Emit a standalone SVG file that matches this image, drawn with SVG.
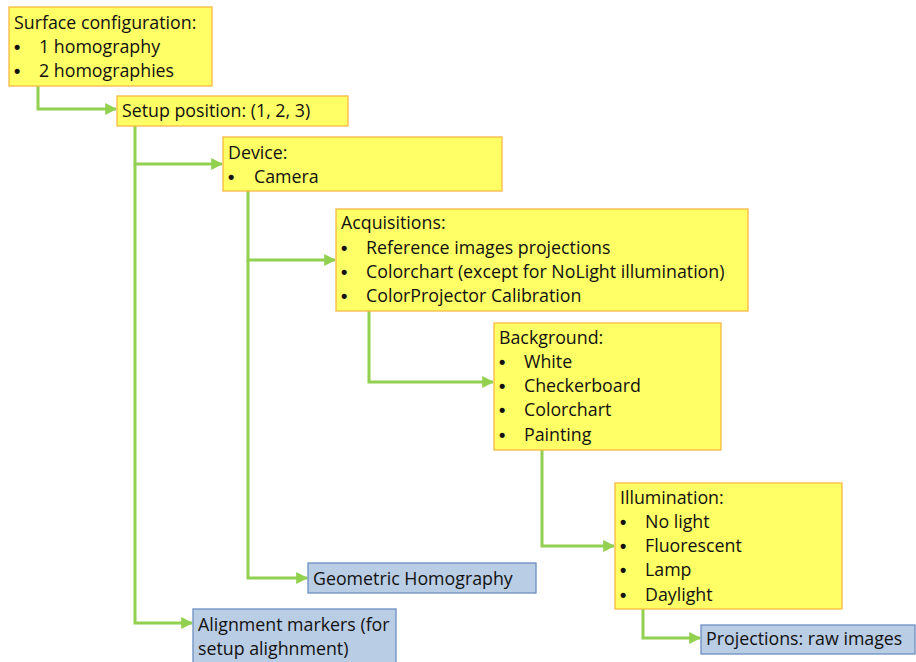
<svg xmlns="http://www.w3.org/2000/svg" width="916" height="662" viewBox="0 0 916 662">
  <style>
    .y { fill: #FFFF66; stroke: #F7B944; stroke-width: 1.3; }
    .b { fill: #B9CDE5; stroke: #6C8EBF; stroke-width: 1.3; }
    text { font-family: "Open Sans", "Liberation Sans", Arial, sans-serif; font-size: 17.8px; fill: #111; }
    .d { font-family: "Liberation Sans", Arial, sans-serif; font-size: 18px; font-weight: bold; }
    .c { fill: none; stroke: #92D050; stroke-width: 3; marker-end: url(#ah); }
  </style>
  <defs>
    <marker id="ah" viewBox="0 0 10 10" refX="9" refY="5" markerWidth="4" markerHeight="4" markerUnits="strokeWidth" orient="auto">
      <path d="M0,0 L10,5 L0,10 z" fill="#92D050"/>
    </marker>
  </defs>

  <g id="connectors">
    <path class="c" d="M38,86 V109 H116"/>
    <path class="c" d="M135,126 V164 H222"/>
    <path class="c" d="M135,164 V623 H192"/>
    <path class="c" d="M248,191 V260 H335"/>
    <path class="c" d="M248,260 V578 H307"/>
    <path class="c" d="M369,311 V382 H493"/>
    <path class="c" d="M542,450 V546 H614"/>
    <path class="c" d="M643,609 V638 H700"/>
  </g>

  <g id="surface">
    <rect class="y" x="9" y="7" width="203" height="79"/>
    <text x="14" y="29">Surface configuration:</text>
    <text class="d" x="14" y="53">•</text><text x="39" y="53">1 homography</text>
    <text class="d" x="14" y="77">•</text><text x="39" y="77">2 homographies</text>
  </g>

  <g id="setup">
    <rect class="y" x="117" y="96" width="231" height="30"/>
    <text x="122" y="117">Setup position: (1, 2, 3)</text>
  </g>

  <g id="device">
    <rect class="y" x="223" y="137" width="279" height="54"/>
    <text x="228" y="159">Device:</text>
    <text class="d" x="228" y="183">•</text><text x="254" y="183">Camera</text>
  </g>

  <g id="acquisitions">
    <rect class="y" x="336" y="209" width="412" height="102"/>
    <text x="341" y="229">Acquisitions:</text>
    <text class="d" x="341" y="254">•</text><text x="366" y="254">Reference images projections</text>
    <text class="d" x="341" y="278">•</text><text x="366" y="278">Colorchart (except for NoLight illumination)</text>
    <text class="d" x="341" y="302">•</text><text x="366" y="302">ColorProjector Calibration</text>
  </g>

  <g id="background">
    <rect class="y" x="494" y="323" width="227" height="127"/>
    <text x="499" y="344">Background:</text>
    <text class="d" x="499" y="368">•</text><text x="524" y="368">White</text>
    <text class="d" x="499" y="392">•</text><text x="524" y="392">Checkerboard</text>
    <text class="d" x="499" y="416">•</text><text x="524" y="416">Colorchart</text>
    <text class="d" x="499" y="441">•</text><text x="524" y="441">Painting</text>
  </g>

  <g id="illumination">
    <rect class="y" x="615" y="483" width="227" height="126"/>
    <text x="620" y="504">Illumination:</text>
    <text class="d" x="620" y="528">•</text><text x="645" y="528">No light</text>
    <text class="d" x="620" y="552">•</text><text x="645" y="552">Fluorescent</text>
    <text class="d" x="620" y="576">•</text><text x="645" y="576">Lamp</text>
    <text class="d" x="620" y="601">•</text><text x="645" y="601">Daylight</text>
  </g>

  <g id="projections">
    <rect class="b" x="701" y="625" width="214" height="29"/>
    <text x="706" y="645">Projections: raw images</text>
  </g>

  <g id="geometric">
    <rect class="b" x="308" y="563" width="228" height="30"/>
    <text x="313" y="585">Geometric Homography</text>
  </g>

  <g id="alignment">
    <rect class="b" x="193" y="609" width="203" height="60"/>
    <text x="198" y="631">Alignment markers (for</text>
    <text x="198" y="655">setup alighnment)</text>
  </g>
</svg>
